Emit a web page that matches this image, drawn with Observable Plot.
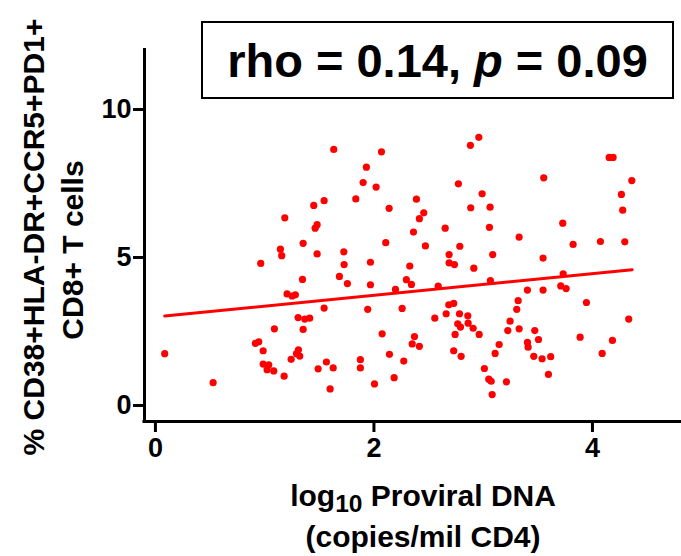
<!DOCTYPE html>
<html>
<head>
<meta charset="utf-8">
<script src="https://cdn.jsdelivr.net/npm/d3@7"></script>
<script src="https://cdn.jsdelivr.net/npm/@observablehq/plot@0.6"></script>
<style>
  html, body { margin: 0; padding: 0; background: #fff; }
  #wrap { position: relative; width: 681px; height: 556px; font-family: "Liberation Sans", Arial, sans-serif; }
  #stat { position: absolute; left: 201px; top: 21px; width: 473px; height: 78px; box-sizing: border-box;
          border: 2px solid #000; display: flex; align-items: center; justify-content: center;
          font-weight: bold; font-size: 47px; color: #000; background: #fff; }
  #stat span { white-space: pre; }
</style>
</head>
<body>
<div id="wrap"></div>
<script>
// log10 proviral DNA (x)
const proviral = [
  1.449, 1.184, 1.462, 1.480, 1.352, 1.144, 1.156, 1.480, 0.964,
  1.346, 1.205, 1.251, 1.281, 1.306, 1.367, 1.412, 1.352, 1.089, 0.915, 0.946, 0.986, 0.085,
  1.309, 1.291, 1.321, 1.242, 0.986, 1.037, 1.022, 1.083, 1.178, 1.489, 0.528,
  1.632, 2.069, 1.931, 1.901, 2.020, 1.834, 1.544, 1.724, 1.727, 1.968, 2.108, 2.139,
  2.389, 2.456, 2.416, 2.362, 2.652, 2.471, 2.773, 2.883, 2.960, 2.886, 2.786, 2.688,
  2.688, 2.737, 2.914, 2.328,
  1.684, 1.757, 1.968, 2.197, 2.297, 2.343, 2.588, 1.544, 1.943, 2.258, 2.685, 2.730,
  2.661, 2.557, 2.783, 2.859, 2.767, 2.792, 2.862, 2.908, 2.963, 2.743, 2.075, 2.371,
  2.350, 2.416, 2.142, 2.273, 1.876, 1.876, 1.565, 1.627, 1.599, 2.005, 2.185, 2.730, 2.798,
  3.554, 4.153, 4.189, 4.360, 4.265, 4.277, 2.990, 3.063, 3.057, 3.728, 3.329, 3.823,
  4.073, 4.296, 3.087, 3.548,
  3.066, 3.732, 3.405, 3.548, 3.710, 3.759, 3.945, 4.332, 3.320, 3.307, 3.246, 3.225,
  3.329, 3.146, 3.109, 3.011, 3.051, 3.073, 3.082, 3.213, 3.472, 3.506, 3.405, 3.411,
  3.463, 3.539, 3.618, 3.597, 3.887, 4.183, 4.089
];
// % CD38+HLA-DR+CCR5+PD1+ of CD8+ T cells (y)
const pctCells = [
  6.76, 6.34, 5.99, 6.11, 5.48, 5.28, 5.06, 5.12, 4.80,
  4.26, 3.77, 3.70, 3.74, 2.97, 2.92, 2.95, 2.57, 2.59, 2.10, 2.15, 1.85, 1.75,
  1.88, 1.75, 1.67, 1.56, 1.40, 1.37, 1.21, 1.17, 0.99, 1.24, 0.77,
  8.65, 8.57, 8.05, 7.53, 7.38, 6.98, 6.92, 5.19, 4.76, 4.84, 5.50, 6.66,
  6.97, 6.51, 6.31, 5.86, 5.99, 5.39, 7.49, 8.79, 9.06, 6.68, 5.38, 5.10,
  4.82, 4.76, 4.64, 4.71,
  4.36, 4.12, 4.08, 3.92, 4.25, 4.09, 4.03, 3.29, 3.25, 3.28, 3.40, 3.45,
  3.10, 2.95, 3.10, 3.03, 2.76, 2.65, 2.78, 2.61, 2.40, 2.40, 2.42, 2.33,
  2.08, 2.00, 1.73, 1.50, 1.55, 1.27, 1.47, 1.27, 0.56, 0.73, 0.94, 1.85, 1.66,
  7.69, 8.38, 8.38, 7.60, 7.13, 6.60, 7.15, 6.70, 6.02, 6.16, 5.69, 5.44,
  5.54, 5.53, 5.10, 4.98,
  4.22, 4.45, 3.90, 3.90, 4.04, 3.95, 3.48, 2.92, 3.54, 3.25, 2.85, 2.53,
  2.59, 2.06, 1.76, 1.25, 0.89, 0.82, 0.37, 0.80, 2.53, 2.23, 2.13, 1.97,
  1.66, 1.58, 1.65, 1.05, 2.31, 2.20, 1.76
];
// fitted regression line end points
const fitX = [0.085, 4.363];
const fitY = [3.02, 4.59];
const xTicks = [0, 2, 4];
const yTicks = [0, 5, 10];
const yLabel1 = "% CD38+HLA-DR+CCR5+PD1+";
const yLabel2 = "CD8+ T cells";
const xLabel1 = "log10 Proviral DNA";
const xLabel2 = "(copies/mil CD4)";
const statText = ["rho = 0.14, ", "p", " = 0.09"];

const points = proviral.map((x, i) => ({x, y: pctCells[i]}));
const fit = fitX.map((x, i) => ({x, y: fitY[i]}));

const xDom = [-0.1, 4.815];
const yDom = [-0.54, 12.06];

const chart = Plot.plot({
  width: 681,
  height: 556,
  marginLeft: 144,
  marginRight: 0,
  marginTop: 48,
  marginBottom: 135,
  x: {domain: xDom},
  y: {domain: yDom},
  style: {fontFamily: "'Liberation Sans', Arial, sans-serif", background: "white", color: "black"},
  marks: [
    Plot.ruleX([xDom[0]], {y1: yDom[0] - 0.05, y2: yDom[1], stroke: "black", strokeWidth: 3}),
    Plot.ruleY([yDom[0]], {x1: xDom[0] - 0.014, x2: xDom[1], stroke: "black", strokeWidth: 3}),
    Plot.axisY({ticks: yTicks, tickSize: 11, tickPadding: 2, strokeWidth: 3, fontSize: 27, fontWeight: "bold", label: null, tickFormat: d => String(d)}),
    Plot.axisX({ticks: xTicks, tickSize: 11, tickPadding: 5, strokeWidth: 3, fontSize: 27, fontWeight: "bold", label: null, tickFormat: d => String(d)}),
    Plot.dot(points, {x: "x", y: "y", r: 3.6, fill: "#ff0000", stroke: null}),
    Plot.line(fit, {x: "x", y: "y", stroke: "#ff0000", strokeWidth: 3}),
    Plot.text([yLabel1], {text: d => d, frameAnchor: "left", textAnchor: "middle", rotate: -90, dx: -101, dy: 2, lineAnchor: "bottom", fontSize: 30, fontWeight: "bold", fill: "black"}),
    Plot.text([yLabel2], {text: d => d, frameAnchor: "left", textAnchor: "middle", rotate: -90, dx: -62, dy: 15, lineAnchor: "bottom", fontSize: 30, fontWeight: "bold", fill: "black"}),
    Plot.text([xLabel1], {text: d => d, frameAnchor: "bottom", dx: 10, dy: 84, lineAnchor: "bottom", fontSize: 30, fontWeight: "bold", fill: "black"}),
    Plot.text([xLabel2], {text: d => d, frameAnchor: "bottom", dx: 10, dy: 125, lineAnchor: "bottom", fontSize: 30, fontWeight: "bold", fill: "black"})
  ]
});

// subscript "10" in the x label
d3.select(chart).selectAll("text").filter(function() { return this.textContent === xLabel1; }).each(function() {
  const t = d3.select(this);
  t.text(null);
  t.append("tspan").text("log");
  t.append("tspan").attr("dy", "0.28em").attr("font-size", "0.82em").text("10");
  t.append("tspan").attr("dy", "-0.23em").text(" Proviral DNA");
});

const wrap = document.getElementById("wrap");
wrap.appendChild(chart);
const stat = document.createElement("div");
stat.id = "stat";
const inner = document.createElement("span");
inner.append(statText[0]);
const it = document.createElement("i");
it.textContent = statText[1];
inner.append(it);
inner.append(statText[2]);
stat.appendChild(inner);
wrap.appendChild(stat);
</script>
</body>
</html>
